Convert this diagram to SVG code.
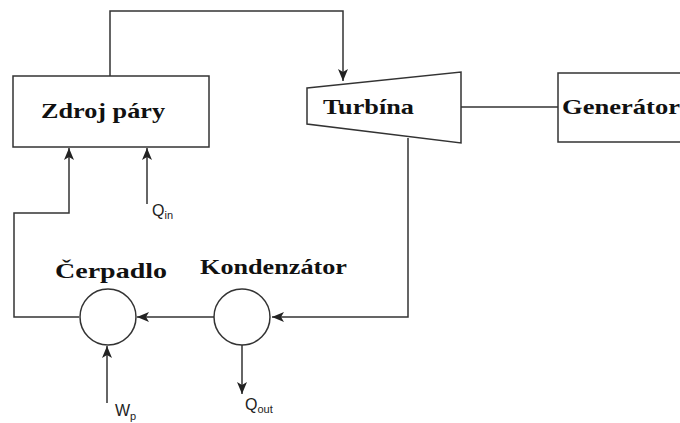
<svg xmlns="http://www.w3.org/2000/svg" width="680" height="423" viewBox="0 0 680 423">
<defs>
<style>
.shape{fill:#fff;stroke:#333;stroke-width:1.5}
.ln{fill:none;stroke:#333;stroke-width:1.5}
.lbl{font-family:"Liberation Serif","Times New Roman",serif;font-weight:bold;font-size:21px;fill:#111}
.sym{font-family:"Liberation Sans",Arial,sans-serif;font-size:16px;fill:#222}
.sub{font-size:11px}
</style>
<marker id="ah" viewBox="0 0 12 10" refX="12" refY="5" markerWidth="12" markerHeight="10" markerUnits="userSpaceOnUse" orient="auto">
<path d="M0,0 L12,5 L0,10 L3,5 Z" fill="#222"/>
</marker>
</defs>
<rect width="680" height="423" fill="#fff"/>
<g id="connectors">
<polyline class="ln" points="110,76 110,11 343,11 343,81" marker-end="url(#ah)"/>
<line class="ln" x1="461" y1="107" x2="558" y2="107"/>
<polyline class="ln" points="408,138 408,317 272,317" marker-end="url(#ah)"/>
<line class="ln" x1="214" y1="317" x2="137" y2="317" marker-end="url(#ah)"/>
<polyline class="ln" points="79,317 14,317 14,213 69,213 69,148" marker-end="url(#ah)"/>
<line class="ln" x1="147" y1="204" x2="147" y2="148" marker-end="url(#ah)"/>
<line class="ln" x1="107" y1="403" x2="107" y2="346" marker-end="url(#ah)"/>
<line class="ln" x1="242" y1="345" x2="242" y2="394" marker-end="url(#ah)"/>
</g>
<g id="zdroj">
<rect class="shape" x="13" y="76" width="196" height="71"/>
<text class="lbl" x="41" y="118" textLength="124" lengthAdjust="spacingAndGlyphs">Zdroj páry</text>
</g>
<g id="turbina">
<polygon class="shape" points="307,88 461,72 461,143 307,124"/>
<text class="lbl" x="323" y="114" textLength="91" lengthAdjust="spacingAndGlyphs">Turbína</text>
</g>
<g id="generator">
<polyline class="shape" points="690,73 558,73 558,142 690,142"/>
<text class="lbl" x="562" y="114" textLength="118" lengthAdjust="spacingAndGlyphs">Generátor</text>
</g>
<g id="cerpadlo">
<circle class="shape" cx="108" cy="317" r="28"/>
<text class="lbl" x="55" y="278" textLength="112" lengthAdjust="spacingAndGlyphs">Čerpadlo</text>
</g>
<g id="kondenzator">
<circle class="shape" cx="242" cy="317" r="28"/>
<text class="lbl" x="200" y="274" textLength="147" lengthAdjust="spacingAndGlyphs">Kondenzátor</text>
</g>
<g id="qin">
<text class="sym" x="152" y="216">Q<tspan class="sub" dy="3">in</tspan></text>
</g>
<g id="wp">
<text class="sym" x="115" y="416">W<tspan class="sub" dy="4">p</tspan></text>
</g>
<g id="qout">
<text class="sym" x="245" y="410">Q<tspan class="sub" dy="3">out</tspan></text>
</g>
</svg>
